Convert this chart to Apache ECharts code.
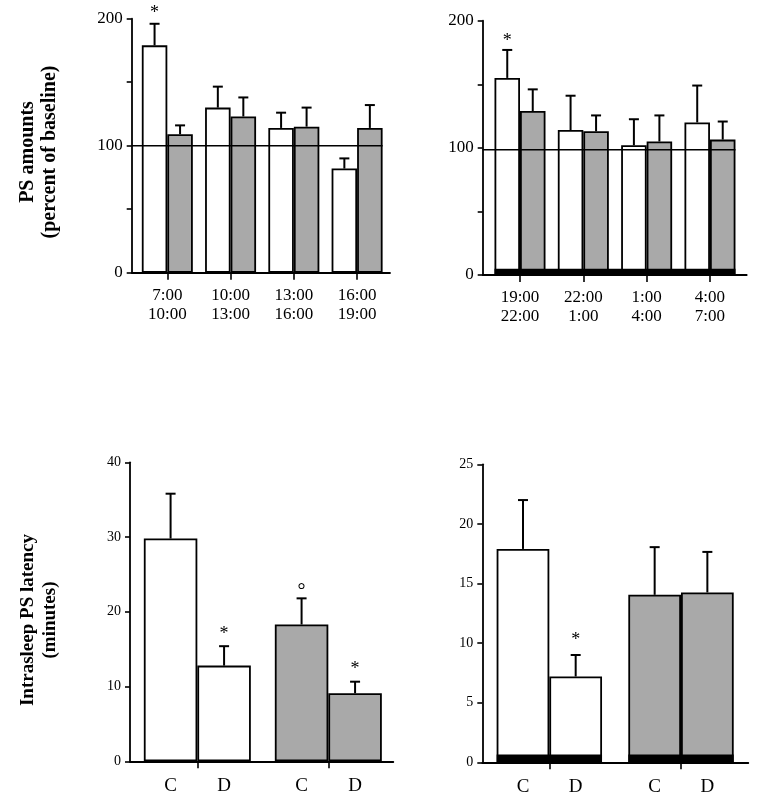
<!DOCTYPE html>
<html><head><meta charset="utf-8">
<script src="https://cdn.jsdelivr.net/npm/echarts@6/dist/echarts.min.js"></script>
<style>html,body{margin:0;padding:0;background:#fff}#c{width:761px;height:801px}</style>
</head><body><div id="c"></div>
<script>
// ---------- data ----------
const tlLabels = ['7:00\n10:00', '10:00\n13:00', '13:00\n16:00', '16:00\n19:00'];
const tlWhite = [179, 130, 114, 82];
const tlWhiteErr = [196, 146.5, 126, 90];
const tlGray = [109, 123, 115, 114];
const tlGrayErr = [116, 138, 130, 132];
const tlWhiteSig = ['*', '', '', ''];
const tlGraySig = ['', '', '', ''];
const tlBaseline = 100;

const trLabels = ['19:00\n22:00', '22:00\n1:00', '1:00\n4:00', '4:00\n7:00'];
const trWhite = [155, 114, 102, 120];
const trWhiteErr = [177, 141, 122.5, 149];
const trGray = [129, 113, 105, 106.5];
const trGrayErr = [146, 125.5, 125.5, 120.7];
const trWhiteSig = ['*', '', '', ''];
const trGraySig = ['', '', '', ''];
const trBaseline = 98.5;
const trNight = [[1, 4, 5]];

const condLabels = ['C', 'D'];
const blC = [29.8, 18.3];
const blCErr = [35.8, 21.8];
const blD = [12.8, 9.1];
const blDErr = [15.4, 10.65];
const blCSig = ['', '°'];
const blDSig = ['*', '*'];

const brC = [17.9, 14.05];
const brCErr = [22.0, 18.05];
const brD = [7.2, 14.25];
const brDErr = [9.0, 17.65];
const brCSig = ['', ''];
const brDSig = ['*', ''];
const brNight = [[1, 1, 0.65], [2, 2, 0.65]];

// ---------- styling / layout ----------
const GRAY = '#a9a9a9';
const FONT = '"Liberation Serif", "Times New Roman", serif';
const G = [
  {left: 131.7, top: 18.7, width: 258.3, height: 254, xmin: 0.437, xmax: 4.52, ymax: 200, yint: 50, bw: 25.5},
  {left: 482.7, top: 20.7, width: 264, height: 254.3, xmin: 0.411, xmax: 4.58, ymax: 200, yint: 50, bw: 25.5},
  {left: 130, top: 462.3, width: 263.3, height: 299, xmin: 0.486, xmax: 2.496, ymax: 40, yint: 10, bw: 53.5},
  {left: 482.3, top: 464.3, width: 266, height: 298, xmin: 0.491, xmax: 2.511, ymax: 25, yint: 5, bw: 52.7}
];

function barSeries(gi, vals, fills) {
  return {
    type: 'bar', xAxisIndex: gi, yAxisIndex: gi, barWidth: G[gi].bw, barGap: '0%', z: 2,
    itemStyle: {borderColor: '#000', borderWidth: 1.8},
    data: vals.map((v, i) => ({value: [i + 1, v], itemStyle: {color: fills[i]}}))
  };
}
function errSeries(gi, means, tops, sigs, side, sigGap) {
  const bw = G[gi].bw;
  return {
    type: 'custom', xAxisIndex: gi, yAxisIndex: gi, z: 4,
    encode: {x: 0, y: [1, 2]},
    data: means.map((m, i) => [i + 1, m, tops[i], i]),
    renderItem: function (params, api) {
      const b = api.coord([api.value(0), api.value(1)]);
      const t = api.coord([api.value(0), api.value(2)]);
      const x = b[0] + side * bw / 2;
      const s = sigs[api.value(3)];
      const ch = [
        {type: 'line', shape: {x1: x, y1: b[1], x2: x, y2: t[1]}, style: {stroke: '#000', lineWidth: 2}},
        {type: 'line', shape: {x1: x - 5, y1: t[1], x2: x + 5, y2: t[1]}, style: {stroke: '#000', lineWidth: 2}}
      ];
      if (s) {
        const isDeg = s === '°';
        ch.push({type: 'text', x: x, y: t[1] - (isDeg ? 7 : sigGap),
          style: {text: s, fontFamily: FONT, fontSize: isDeg ? 20 : 18, fill: '#000', align: 'center', verticalAlign: 'middle'}});
      }
      return {type: 'group', children: ch};
    }
  };
}
function nightSeries(gi, spans) {
  const bw = G[gi].bw;
  return {
    type: 'custom', xAxisIndex: gi, yAxisIndex: gi, z: 3,
    encode: {x: [0, 1], y: 2},
    data: spans,
    renderItem: function (params, api) {
      const p1 = api.coord([api.value(0), 0]);
      const p2 = api.coord([api.value(1), api.value(2)]);
      return {type: 'rect', shape: {x: p1[0] - bw, y: p2[1], width: p2[0] - p1[0] + 2 * bw, height: p1[1] - p2[1]},
        style: {fill: '#000'}};
    }
  };
}
function baselineSeries(gi, lastX, base) {
  const bw = G[gi].bw;
  return {
    type: 'custom', xAxisIndex: gi, yAxisIndex: gi, z: 5,
    encode: {x: 0, y: 1},
    data: [[lastX, base]],
    renderItem: function (params, api) {
      const p = api.coord([api.value(0), api.value(1)]);
      return {type: 'line', shape: {x1: params.coordSys.x, y1: p[1], x2: p[0] + bw, y2: p[1]},
        style: {stroke: '#000', lineWidth: 1.6}};
    }
  };
}

const axisLine = {show: true, lineStyle: {color: '#000', width: 1.8}};
const xAxes = G.map((g, gi) => {
  const top = gi < 2;
  const labels = gi === 0 ? tlLabels : trLabels;
  return {
    type: 'value', gridIndex: gi, min: g.xmin, max: g.xmax,
    axisLine: axisLine, splitLine: {show: false},
    axisTick: {show: true, customValues: top ? [1, 2, 3, 4] : [1, 2], length: 7, lineStyle: {color: '#000', width: 1.6}},
    axisLabel: top ? {
      customValues: [1, 2, 3, 4], formatter: v => labels[Math.round(v) - 1],
      fontFamily: FONT, fontSize: 17, lineHeight: 19, color: '#000', margin: 13
    } : {
      customValues: [1, 2], formatter: () => '{a|' + condLabels[0] + '}{b|' + condLabels[1] + '}',
      margin: 15,
      rich: {
        a: {width: g.bw, align: 'center', fontFamily: FONT, fontSize: 19, color: '#000'},
        b: {width: g.bw, align: 'center', fontFamily: FONT, fontSize: 19, color: '#000'}
      }
    }
  };
});
const yAxes = G.map((g, gi) => ({
  type: 'value', gridIndex: gi, min: 0, max: g.ymax, interval: g.yint,
  axisLine: axisLine, splitLine: {show: false},
  axisTick: {show: true, length: 5, lineStyle: {color: '#000', width: 1.6}},
  axisLabel: {
    formatter: v => (gi < 2 ? (v % 100 === 0 ? String(v) : '') : String(v)),
    fontFamily: FONT, fontSize: gi < 2 ? 17 : 14, color: '#000', margin: 9
  }
}));

const whiteGray = ['#ffffff', GRAY];
const series = [
  barSeries(0, tlWhite, tlWhite.map(() => '#ffffff')),
  barSeries(0, tlGray, tlGray.map(() => GRAY)),
  baselineSeries(0, tlWhite.length, tlBaseline),
  errSeries(0, tlWhite, tlWhiteErr, tlWhiteSig, -1, 11),
  errSeries(0, tlGray, tlGrayErr, tlGraySig, 1, 11),

  barSeries(1, trWhite, trWhite.map(() => '#ffffff')),
  barSeries(1, trGray, trGray.map(() => GRAY)),
  nightSeries(1, trNight),
  baselineSeries(1, trWhite.length, trBaseline),
  errSeries(1, trWhite, trWhiteErr, trWhiteSig, -1, 9),
  errSeries(1, trGray, trGrayErr, trGraySig, 1, 9),

  barSeries(2, blC, whiteGray),
  barSeries(2, blD, whiteGray),
  errSeries(2, blC, blCErr, blCSig, -1, 14),
  errSeries(2, blD, blDErr, blDSig, 1, 12),

  barSeries(3, brC, whiteGray),
  barSeries(3, brD, whiteGray),
  nightSeries(3, brNight),
  errSeries(3, brC, brCErr, brCSig, -1, 14),
  errSeries(3, brD, brDErr, brDSig, 1, 15)
];

const titleStyle = {fontFamily: FONT, fontWeight: 'bold', fill: '#000', align: 'center', verticalAlign: 'middle'};
const chart = echarts.init(document.getElementById('c'), null, {renderer: 'canvas'});
chart.setOption({
  animation: false,
  backgroundColor: '#fff',
  grid: G.map(g => ({left: g.left, top: g.top, width: g.width, height: g.height, containLabel: false})),
  xAxis: xAxes,
  yAxis: yAxes,
  series: series,
  graphic: [
    {type: 'text', x: 28, y: 152, rotation: Math.PI / 2, style: Object.assign({text: 'PS amounts', fontSize: 20}, titleStyle)},
    {type: 'text', x: 50, y: 152, rotation: Math.PI / 2, style: Object.assign({text: '(percent of baseline)', fontSize: 20}, titleStyle)},
    {type: 'text', x: 28, y: 620, rotation: Math.PI / 2, style: Object.assign({text: 'Intrasleep PS latency', fontSize: 19}, titleStyle)},
    {type: 'text', x: 50, y: 620, rotation: Math.PI / 2, style: Object.assign({text: '(minutes)', fontSize: 19}, titleStyle)}
  ]
});
</script>
</body></html>
